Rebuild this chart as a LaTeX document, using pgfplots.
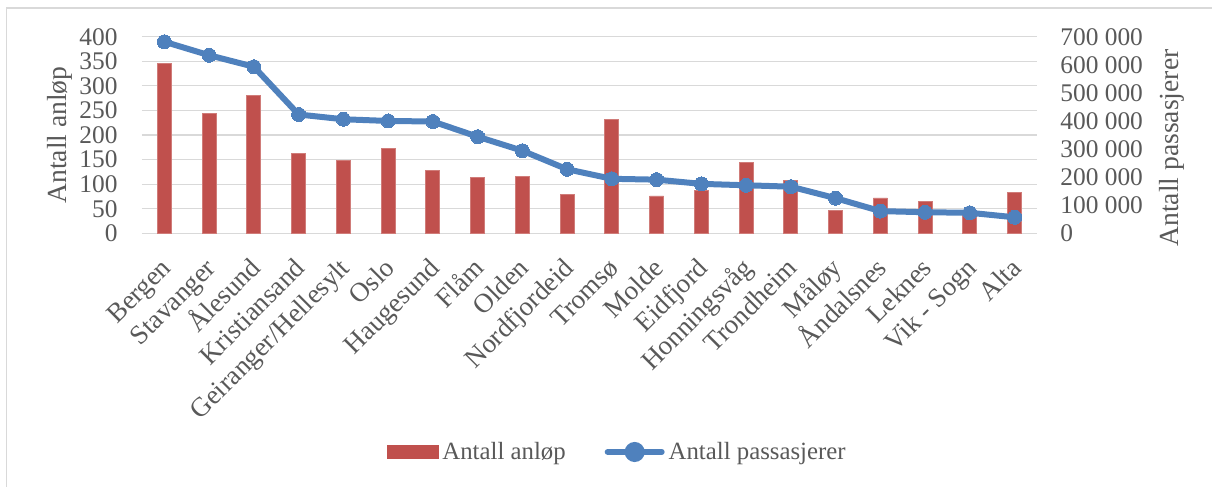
\documentclass[border=0pt]{standalone}
\usepackage{fontspec}
\setmainfont{Liberation Serif}
\usepackage{pgfplots}
\pgfplotsset{compat=1.18}

\definecolor{barred}{HTML}{C0504D}
\definecolor{lineblue}{HTML}{4F81BD}
\definecolor{gridgray}{HTML}{D9D9D9}
\definecolor{txtgray}{HTML}{595959}

\pgfplotsset{
  base/.style={
    scale only axis, width=447.5pt, height=98.3pt,
    at={(71pt,126.85pt)}, anchor=south west,
    xmin=-0.5, xmax=19.5, enlargelimits=false,
    tick style={draw=none}, major tick length=0pt,
    /pgf/number format/assume math mode=true,
    tick label style={text=txtgray},
    label style={text=txtgray, font=\fontsize{13.8}{16}\selectfont},
  }
}

\begin{document}
\begin{tikzpicture}
\useasboundingbox (0,0) rectangle (606pt,243.5pt);
\draw[gridgray, line width=0.8pt] (3.25pt,0) -- (3.25pt,239.35pt) -- (606pt,239.35pt);

% venstre akse: antall anløp
\begin{axis}[base,
  ymin=0, ymax=400, ytick={0,50,...,400},
  ymajorgrids, grid style={gridgray, line width=0.6pt},
  axis x line*=bottom, axis y line*=left,
  x axis line style={gridgray, line width=0.6pt},
  y axis line style={draw=none},
  yticklabel style={font=\fontsize{12.7}{14}\selectfont, inner sep=0pt, xshift=-12pt},
  xtick={0,...,19},
  xticklabels={Bergen,Stavanger,Ålesund,Kristiansand,Geiranger/Hellesylt,Oslo,Haugesund,Flåm,Olden,Nordfjordeid,Tromsø,Molde,Eidfjord,Honningsvåg,Trondheim,Måløy,Åndalsnes,Leknes,Vik - Sogn,Alta},
  xticklabel style={font=\fontsize{13.5}{15}\selectfont, xshift=-1pt, yshift=-13pt,
    rotate=45, anchor=north east, text height=0.7em, text depth=0.25em, inner sep=0pt},
  ylabel={Antall anløp},
  ylabel style={at={(axis description cs:-0.0916,0.5)}, rotate=0, anchor=center},
]
\addplot[ybar, bar width=7pt, bar shift=0pt, fill=barred, draw=barred!75!white, line width=0.4pt]
coordinates {
  (0,345) (1,243) (2,280) (3,162) (4,148) (5,172) (6,128) (7,113) (8,115) (9,79)
  (10,232) (11,76) (12,87) (13,144) (14,108) (15,47) (16,72) (17,65) (18,45) (19,84)
};
\end{axis}

% høyre akse: antall passasjerer
\begin{axis}[base,
  ymin=0, ymax=700000, ytick={0,100000,...,700000}, scaled y ticks=false,
  yticklabels={0,100 000,200 000,300 000,400 000,500 000,600 000,700 000},
  hide x axis, axis y line*=right, y axis line style={draw=none},
  yticklabel style={font=\fontsize{12.7}{14}\selectfont, inner sep=0pt, xshift=11.5pt},
  ylabel={Antall passasjerer},
  ylabel style={at={(axis description cs:1.1508,0.434)}, rotate=0, anchor=center},
  legend columns=2,
  legend style={at={(axis description cs:0.532,-1.1124)}, anchor=center,
    draw=none, fill=none, font=\fontsize{12.4}{14}\selectfont, text=txtgray,
    /tikz/every even column/.append style={column sep=17.5pt}},
]
\addlegendimage{legend image code/.code={\fill[barred] (0pt,-3.25pt) rectangle (25.5pt,3.25pt);}}
\addlegendentry{Antall anløp}
\addplot[lineblue, line width=3pt, mark=*, mark size=3.5pt,
  mark options={fill=lineblue, draw=lineblue, line width=0pt},
  legend image code/.code={\draw[lineblue, line width=3pt, line cap=round] (0pt,0pt) -- (27pt,0pt);
    \fill[lineblue] (13.5pt,0pt) circle (3.5pt);}]
coordinates {
  (0,682000) (1,634000) (2,593000) (3,423000) (4,406000) (5,400000) (6,398000)
  (7,344000) (8,294000) (9,228000) (10,194000) (11,191000) (12,176000) (13,171000)
  (14,166000) (15,125000) (16,79000) (17,75000) (18,73000) (19,57000)
};
\addlegendentry{Antall passasjerer}
\end{axis}
\end{tikzpicture}
\end{document}
